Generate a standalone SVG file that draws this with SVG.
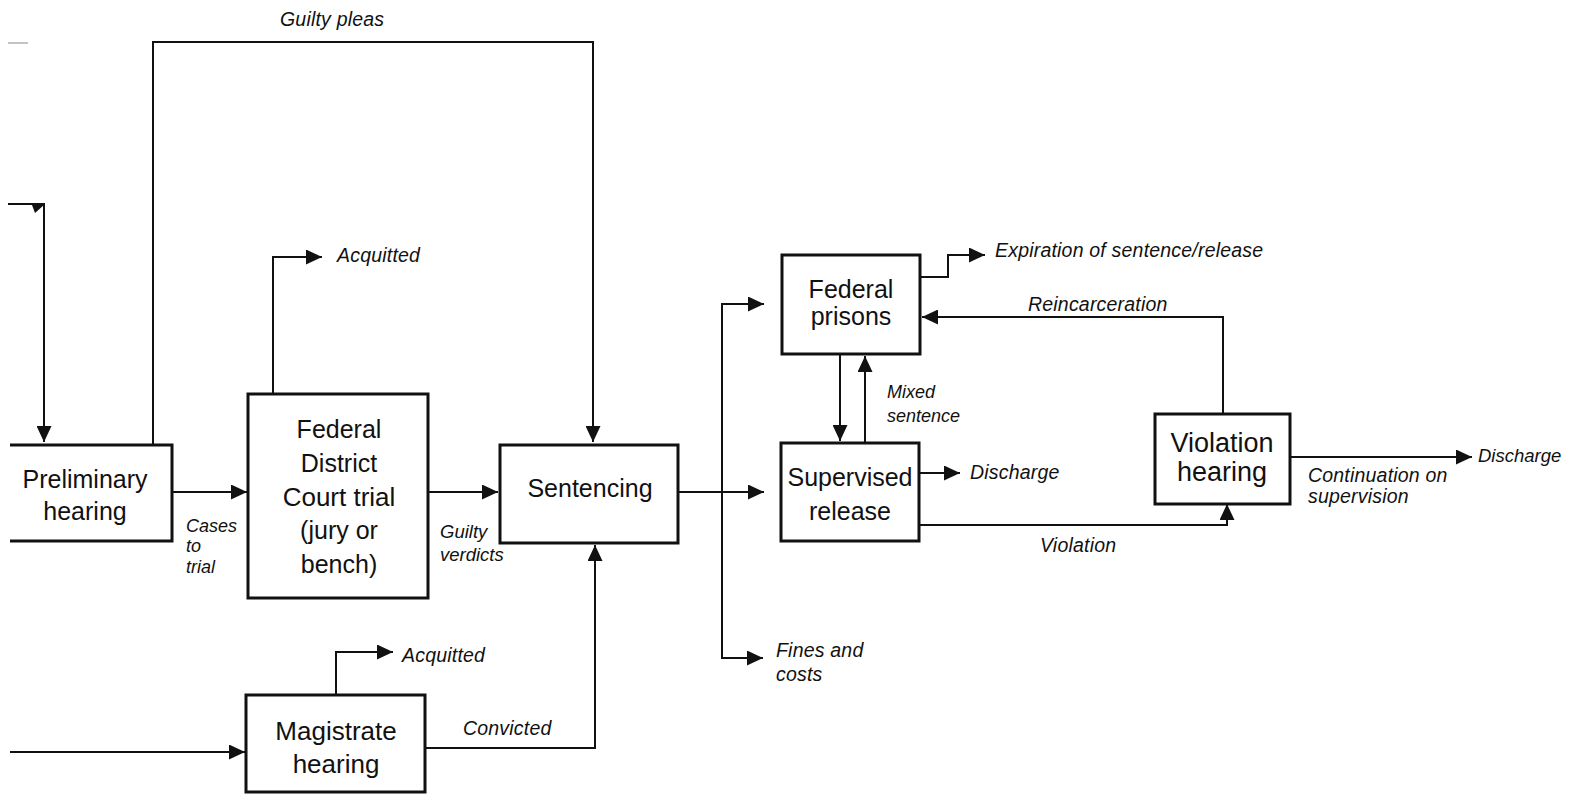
<svg xmlns="http://www.w3.org/2000/svg" width="1588" height="794" viewBox="0 0 1588 794">
<style>
.box{fill:#fff;stroke:#111;stroke-width:3}
.bt{font-family:"Liberation Sans",Arial,sans-serif;font-size:25px;fill:#111;text-anchor:middle}
.bt2{font-size:27px}
.lb{font-family:"Liberation Sans",Arial,sans-serif;font-size:19.5px;letter-spacing:0.2px;font-style:italic;fill:#111}
.sm{font-size:18px;letter-spacing:0}
.c{fill:none;stroke:#111;stroke-width:2}
</style>
<defs>
<marker id="ah" markerUnits="userSpaceOnUse" markerWidth="16" markerHeight="15" refX="16" refY="7.5" orient="auto">
<path d="M0,0 L16,7.5 L0,15 z" fill="#111"/>
</marker>
</defs>
<g id="connectors">
<polyline class="c" points="8,204 44,204 44,442" marker-end="url(#ah)"/>
<polygon points="32,205 44,205 35,213" fill="#111"/>
<line x1="8" y1="43" x2="28" y2="43" stroke="#888" stroke-width="1"/>
<polyline class="c" points="153,445 153,42 593,42 593,442" marker-end="url(#ah)"/>
<line class="c" x1="172" y1="492" x2="247" y2="492" marker-end="url(#ah)"/>
<polyline class="c" points="273,394 273,257 322,257" marker-end="url(#ah)"/>
<line class="c" x1="428" y1="492" x2="498" y2="492" marker-end="url(#ah)"/>
<line class="c" x1="10" y1="752" x2="245" y2="752" marker-end="url(#ah)"/>
<polyline class="c" points="336,695 336,652 393,652" marker-end="url(#ah)"/>
<polyline class="c" points="425,748 595,748 595,545" marker-end="url(#ah)"/>
<line class="c" x1="678" y1="492" x2="764" y2="492" marker-end="url(#ah)"/>
<polyline class="c" points="722,492 722,304 764,304" marker-end="url(#ah)"/>
<polyline class="c" points="722,492 722,658 763,658" marker-end="url(#ah)"/>
<line class="c" x1="840" y1="354" x2="840" y2="441" marker-end="url(#ah)"/>
<line class="c" x1="865" y1="443" x2="865" y2="356" marker-end="url(#ah)"/>
<polyline class="c" points="920,277 948,277 948,255 985,255" marker-end="url(#ah)"/>
<line class="c" x1="919" y1="473" x2="960" y2="473" marker-end="url(#ah)"/>
<polyline class="c" points="919,525 1227,525 1227,504" marker-end="url(#ah)"/>
<polyline class="c" points="1223,414 1223,317 922,317" marker-end="url(#ah)"/>
<line class="c" x1="1290" y1="457" x2="1472" y2="457" marker-end="url(#ah)"/>
</g>
<g id="labels">
<text class="lb" x="280" y="26">Guilty pleas</text>
<text class="lb" x="337" y="262">Acquitted</text>
<text class="lb sm" x="186" y="532">Cases</text>
<text class="lb sm" x="186" y="552">to</text>
<text class="lb sm" x="186" y="573">trial</text>
<text class="lb" x="440" y="538" style="font-size:18.5px;letter-spacing:0">Guilty</text>
<text class="lb" x="440" y="561" style="font-size:18.5px;letter-spacing:0">verdicts</text>
<text class="lb" x="402" y="662">Acquitted</text>
<text class="lb" x="463" y="735">Convicted</text>
<text class="lb" x="776" y="657">Fines and</text>
<text class="lb" x="776" y="681">costs</text>
<text class="lb sm" x="887" y="398">Mixed</text>
<text class="lb sm" x="887" y="422">sentence</text>
<text class="lb" x="995" y="257">Expiration of sentence/release</text>
<text class="lb" x="1028" y="311">Reincarceration</text>
<text class="lb" x="970" y="479">Discharge</text>
<text class="lb" x="1040" y="552">Violation</text>
<text class="lb" x="1308" y="482">Continuation on</text>
<text class="lb" x="1308" y="503">supervision</text>
<text class="lb" x="1478" y="462" style="font-size:18.5px;letter-spacing:0">Discharge</text>
</g>
<g id="preliminary-hearing">
<path class="box" d="M10,445 H172 V541 H10"/>
<text class="bt" x="85" y="488">Preliminary</text>
<text class="bt" x="85" y="520">hearing</text>
</g>
<g id="federal-district-court-trial">
<rect class="box" x="248" y="394" width="180" height="204"/>
<text class="bt" x="339" y="438">Federal</text>
<text class="bt" x="339" y="472">District</text>
<text class="bt" x="339" y="506" style="font-size:26px">Court trial</text>
<text class="bt" x="339" y="539">(jury or</text>
<text class="bt" x="339" y="573">bench)</text>
</g>
<g id="sentencing">
<rect class="box" x="500" y="445" width="178" height="98"/>
<text class="bt" x="590" y="497">Sentencing</text>
</g>
<g id="magistrate-hearing">
<rect class="box" x="246" y="695" width="179" height="97"/>
<text class="bt" x="336" y="740" style="font-size:26px">Magistrate</text>
<text class="bt" x="336" y="773" style="font-size:26px">hearing</text>
</g>
<g id="federal-prisons">
<rect class="box" x="782" y="255" width="138" height="99"/>
<text class="bt" x="851" y="298">Federal</text>
<text class="bt" x="851" y="325">prisons</text>
</g>
<g id="supervised-release">
<rect class="box" x="781" y="443" width="138" height="98"/>
<text class="bt" x="850" y="486">Supervised</text>
<text class="bt" x="850" y="520">release</text>
</g>
<g id="violation-hearing">
<rect class="box" x="1155" y="414" width="135" height="90"/>
<text class="bt bt2" x="1222" y="452">Violation</text>
<text class="bt bt2" x="1222" y="481">hearing</text>
</g>
</svg>
